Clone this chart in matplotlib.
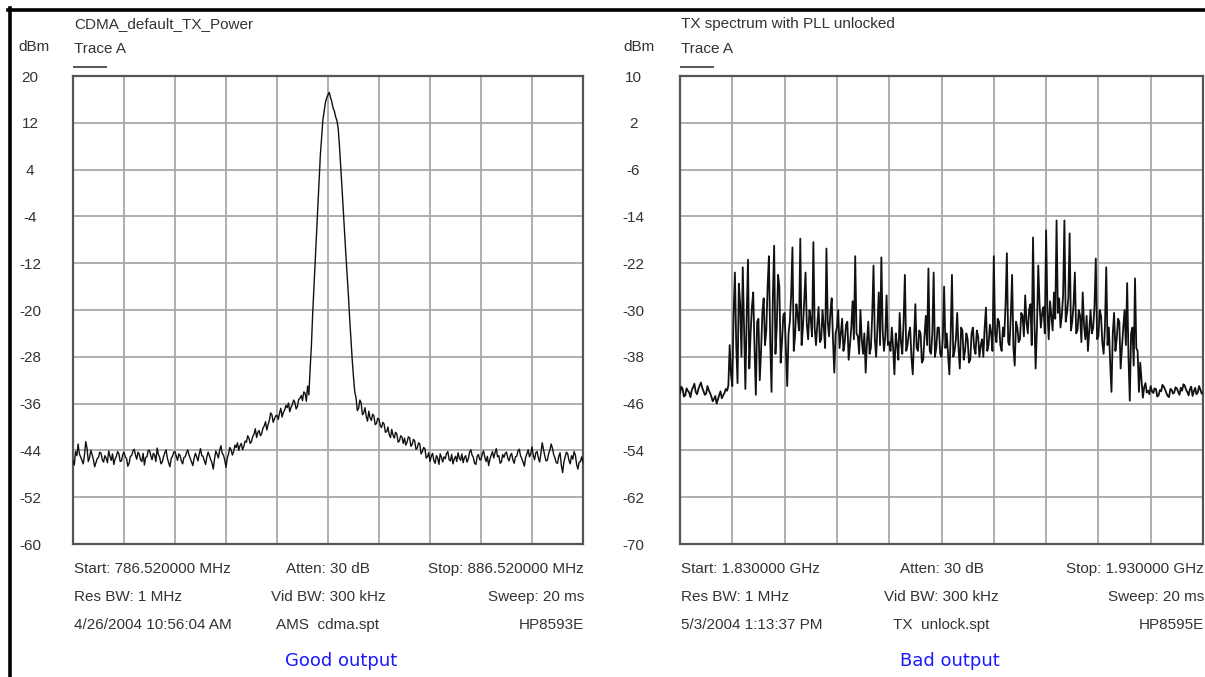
import numpy as np
import matplotlib
matplotlib.use("Agg")
import matplotlib.pyplot as plt
from matplotlib.lines import Line2D

W, H = 1205, 677

# ---------------- data ----------------
good_title = "CDMA_default_TX_Power"
bad_title = "TX spectrum with PLL unlocked"
good_start_mhz, good_stop_mhz = 786.52, 886.52
bad_start_mhz, bad_stop_mhz = 1830.0, 1930.0
good_yticks = [20, 12, 4, -4, -12, -20, -28, -36, -44, -52, -60]
bad_yticks = [10, 2, -6, -14, -22, -30, -38, -46, -54, -62, -70]
good_info = [["Start: 786.520000 MHz", "Atten: 30 dB", "Stop: 886.520000 MHz"],
             ["Res BW: 1 MHz", "Vid BW: 300 kHz", "Sweep: 20 ms"],
             ["4/26/2004 10:56:04 AM", "AMS  cdma.spt", "HP8593E"]]
bad_info = [["Start: 1.830000 GHz", "Atten: 30 dB", "Stop: 1.930000 GHz"],
            ["Res BW: 1 MHz", "Vid BW: 300 kHz", "Sweep: 20 ms"],
            ["5/3/2004 1:13:37 PM", "TX  unlock.spt", "HP8595E"]]
good_caption = "Good output"
bad_caption = "Bad output"

# trace values (dBm), one every 0.25 MHz across the 100 MHz span (401 sweep points)
good_trace = [
    -45.8, -46.5, -44.2, -44.9, -42.9, -44.6, -45.1, -45.7, -46.3, -44.8, -42.5, -43.6, -45.9, -45.2, -44.0, -44.7, -45.6, -46.8, -46.1, -45.4,
    -45.2, -44.3, -44.5, -45.6, -46.0, -44.9, -45.3, -46.1, -44.1, -45.0, -45.7, -44.6, -46.4, -45.5, -45.0, -44.2, -44.6, -45.9, -45.8, -44.7,
    -44.3, -45.1, -45.4, -46.7, -46.2, -45.0, -44.9, -44.1, -43.8, -44.8, -45.5, -44.3, -44.7, -45.6, -45.9, -44.5, -46.5, -45.2, -45.1, -44.0,
    -44.0, -44.9, -45.6, -44.5, -44.8, -45.9, -43.6, -44.7, -45.2, -46.3, -46.0, -45.1, -44.4, -43.9, -45.3, -46.1, -46.8, -45.4, -45.0, -44.3,
    -44.2, -45.0, -45.7, -44.6, -44.9, -45.8, -46.3, -45.2, -45.1, -44.4, -43.9, -44.8, -45.4, -46.0, -46.6, -45.3, -44.5, -45.1, -45.8, -44.6,
    -43.7, -44.9, -45.0, -45.8, -46.4, -45.1, -44.3, -44.9, -45.6, -46.1, -47.2, -45.5, -44.1, -44.6, -45.3, -44.0, -43.2, -44.5, -44.8, -45.6,
    -46.9, -45.3, -44.6, -43.5, -43.9, -44.8, -44.2, -43.1, -43.5, -42.7, -44.0, -43.2, -42.8, -43.9, -43.3, -42.4, -42.6, -41.5, -41.9, -42.8,
    -42.5, -41.6, -41.2, -40.3, -41.8, -40.9, -40.6, -41.5, -41.1, -40.2, -39.8, -39.1, -40.5, -39.6, -38.9, -37.6, -37.9, -39.2, -38.6, -38.1,
    -38.0, -38.7, -37.6, -36.8, -38.3, -37.5, -37.1, -36.3, -36.7, -35.9, -37.4, -36.6, -36.2, -35.4, -35.8, -36.9, -36.5, -35.3, -35.1, -34.6,
    -35.5, -34.0, -34.2, -35.6, -33.0, -34.5, -30.0, -26.0, -20.5, -16.0, -11.5, -7.0, -2.5, 2.0, 6.5, 9.5, 12.5, 14.0, 15.5, 16.3,
    16.8, 17.2, 16.3, 15.6, 14.5, 14.0, 13.0, 12.4, 11.0, 8.0, 4.5, 0.8, -3.0, -6.8, -10.5, -14.0, -17.5, -21.5, -25.0, -28.5,
    -31.5, -34.0, -35.0, -37.2, -36.8, -35.4, -35.9, -37.9, -37.6, -36.7, -38.2, -39.0, -37.3, -38.4, -38.9, -37.8, -38.1, -39.6, -39.4, -38.5,
    -38.7, -39.8, -40.1, -39.2, -39.5, -40.9, -40.8, -40.0, -41.3, -41.8, -40.4, -41.4, -41.9, -40.9, -41.2, -42.6, -42.4, -41.5, -41.7, -42.8,
    -41.9, -43.1, -42.6, -41.7, -41.8, -43.3, -43.0, -42.1, -42.4, -43.8, -43.6, -42.7, -42.9, -44.6, -44.2, -43.5, -43.7, -45.3, -45.1, -44.4,
    -45.9, -45.0, -44.5, -45.7, -46.2, -44.9, -45.3, -46.4, -44.6, -45.2, -46.0, -45.1, -45.4, -44.5, -44.2, -45.6, -45.8, -44.7, -46.3, -45.5,
    -45.0, -45.9, -44.4, -45.3, -45.7, -44.6, -46.1, -45.2, -44.9, -46.0, -45.5, -44.3, -43.9, -44.8, -45.2, -46.2, -46.4, -45.0, -44.7, -45.6,
    -45.6, -44.6, -44.1, -45.2, -45.9, -45.0, -46.6, -45.5, -44.8, -44.2, -45.3, -44.4, -43.7, -45.1, -44.9, -46.2, -46.0, -44.7, -45.2, -44.5,
    -44.3, -45.3, -45.8, -44.9, -44.5, -45.6, -46.2, -45.1, -45.0, -44.1, -43.8, -44.9, -45.4, -46.0, -46.7, -45.2, -44.6, -43.9, -45.1, -44.6,
    -43.4, -44.8, -45.6, -44.4, -44.2, -45.3, -46.0, -44.5, -42.7, -43.8, -44.9, -45.8, -45.7, -44.6, -44.0, -42.9, -43.6, -44.7, -45.3, -46.1,
    -46.2, -45.0, -44.4, -46.5, -47.8, -46.0, -45.1, -44.3, -44.6, -45.7, -46.3, -44.9, -45.5, -44.2, -44.8, -46.4, -47.2, -46.0, -45.9, -45.1,
    -46.1,
]

bad_trace = [
    -44.2, -43.1, -43.5, -44.8, -44.6, -43.4, -43.8, -44.1, -44.9, -43.7, -43.2, -42.6, -44.0, -44.4, -43.6, -42.9, -42.4, -43.3, -43.9, -44.5,
    -44.3, -43.0, -43.7, -44.2, -44.8, -45.6, -45.2, -44.7, -46.0, -45.3, -44.5, -43.9, -45.1, -44.6, -44.2, -43.5, -43.8, -42.9, -36.0, -41.0,
    -43.0, -30.5, -23.6, -36.0, -42.5, -25.5, -29.0, -38.0, -22.7, -33.0, -43.5, -31.0, -21.4, -40.0, -34.0, -29.5, -27.0, -36.5, -44.5, -32.0,
    -31.5, -42.0, -37.0, -30.5, -28.0, -36.0, -33.5, -26.0, -20.8, -35.5, -44.0, -28.0, -19.0, -37.5, -33.0, -24.0, -26.0, -39.0, -35.5, -31.0,
    -30.5, -36.5, -43.0, -34.0, -32.0, -27.5, -19.3, -37.0, -34.5, -29.0, -31.0, -33.5, -17.8, -36.0, -33.0, -28.5, -23.6, -32.5, -35.0, -30.0,
    -31.5, -34.5, -18.4, -33.0, -36.0, -32.5, -29.5, -35.5, -35.0, -30.0, -33.0, -36.5, -19.5, -32.0, -34.5, -30.5, -28.0, -35.0, -40.7, -34.0,
    -33.0, -30.0, -36.5, -34.0, -31.5, -37.0, -35.5, -32.5, -32.0, -38.5, -36.0, -33.0, -28.5, -35.0, -20.8, -34.0, -34.5, -37.5, -30.0, -35.0,
    -37.5, -34.0, -40.7, -35.5, -32.0, -37.5, -36.5, -31.0, -22.4, -35.0, -38.0, -33.0, -27.0, -36.0, -21.0, -33.5, -37.0, -34.5, -27.5, -36.0,
    -35.5, -37.0, -33.0, -36.5, -41.0, -34.0, -36.0, -38.5, -30.5, -35.5, -37.5, -32.0, -24.0, -37.0, -36.0, -34.0, -33.0, -38.0, -41.0, -35.0,
    -29.0, -36.5, -37.0, -33.5, -34.0, -39.0, -38.5, -34.5, -31.0, -36.0, -22.9, -37.0, -37.5, -34.0, -23.6, -38.0, -36.5, -33.0, -33.0, -37.5,
    -38.0, -35.0, -26.0, -36.5, -34.0, -37.5, -41.0, -34.5, -24.0, -38.0, -37.0, -35.0, -30.5, -36.5, -40.0, -33.0, -33.5, -38.5, -37.0, -34.0,
    -35.0, -39.0, -38.5, -34.0, -33.0, -36.5, -37.5, -33.5, -34.5, -38.0, -36.0, -35.0, -38.0, -33.0, -29.6, -37.0, -36.0, -32.5, -34.0, -37.0,
    -20.8, -34.0, -35.5, -31.5, -32.0, -36.0, -37.0, -33.0, -34.5, -29.0, -20.3, -35.5, -36.0, -31.0, -24.0, -36.5, -39.5, -32.0, -33.0, -35.5,
    -35.0, -30.5, -31.0, -34.5, -27.5, -32.0, -34.0, -30.0, -29.0, -36.0, -17.6, -31.5, -40.0, -33.0, -22.4, -29.0, -33.0, -30.5, -29.5, -34.0,
    -16.4, -30.0, -35.0, -28.5, -31.0, -33.5, -27.0, -31.5, -14.7, -30.5, -28.0, -33.0, -31.0, -27.5, -14.7, -32.0, -30.5, -28.0, -16.9, -33.5,
    -32.0, -29.0, -23.6, -34.0, -33.5, -30.0, -31.0, -35.5, -27.0, -32.5, -35.0, -31.0, -37.0, -33.5, -30.0, -34.0, -33.0, -29.5, -21.2, -35.0,
    -34.5, -30.0, -31.0, -35.5, -37.5, -33.0, -22.7, -36.0, -33.0, -39.0, -44.0, -34.0, -30.5, -37.0, -35.0, -31.5, -32.0, -40.0, -36.5, -33.0,
    -30.0, -36.0, -25.4, -38.0, -45.5, -34.0, -33.0, -39.5, -24.6, -36.5, -37.0, -44.0, -39.0, -42.0, -45.0, -43.2, -42.5, -44.1, -43.8, -44.4,
    -43.0, -43.9, -44.2, -43.4, -43.5, -44.8, -44.6, -43.7, -43.9, -42.8, -43.1, -43.6, -44.2, -44.7, -44.9, -43.5, -43.6, -44.3, -44.1, -43.2,
    -43.4, -44.0, -44.5, -43.3, -43.8, -42.7, -42.9, -43.6, -44.0, -44.6, -43.5, -43.1, -44.7, -43.9, -43.3, -44.4, -44.1, -43.0, -43.6, -44.3,
    -44.2,
]

# ---------------- style ----------------
FONT = ['Liberation Sans', 'DejaVu Sans']
TXT = '#333333'
FS = 11

fig = plt.figure(figsize=(W / 100, H / 100), dpi=100)
fig.patch.set_facecolor('white')


def fx(x):
    return x / W


def fy(y):
    return 1 - y / H


def draw_panel(box, start, stop, values, yticks, title, info, caption,
               caption_cx, label_cx, dbm_cx, lw):
    x0, y0, x1, y1 = box
    ax = fig.add_axes([fx(x0), fy(y1), (x1 - x0) / W, (y1 - y0) / H])
    freqs = np.linspace(start, stop, len(values))
    ax.plot(freqs, values, color='#111111', lw=lw, zorder=3)
    ax.set_xlim(start, stop)
    ax.set_ylim(yticks[-1], yticks[0])
    ax.set_xticks(np.linspace(start, stop, 11))
    ax.set_yticks(yticks)
    ax.set_yticklabels([str(v) for v in yticks])
    ax.grid(True, color='#a8a8a8', lw=1.3, zorder=1)
    ax.set_axisbelow(True)
    ax.tick_params(axis='x', length=0, labelbottom=False)
    ax.tick_params(axis='y', length=0, pad=(x0 - label_cx) * 0.72,
                   labelsize=FS, labelcolor=TXT)
    for lab in ax.get_yticklabels():
        lab.set_ha('center')
        lab.set_fontfamily(FONT)
    for s in ax.spines.values():
        s.set_color('#555555')
        s.set_linewidth(1.6)

    fig.text(fx(x0 + 1), fy(24), title, ha='left', va='center',
             fontsize=FS, color=TXT, family=FONT)
    fig.text(fx(dbm_cx), fy(47), "dBm", ha='center', va='center',
             fontsize=FS, color=TXT, family=FONT)
    fig.text(fx(x0 + 1), fy(49), "Trace A", ha='left', va='center',
             fontsize=FS, color=TXT, family=FONT)
    fig.add_artist(Line2D([fx(x0 + 1), fx(x0 + 33)], [fy(67), fy(67)],
                          color='#555555', lw=1.4))

    rows_y = [569, 597, 625]
    for row, yy in zip(info, rows_y):
        fig.text(fx(x0 + 1), fy(yy), row[0], ha='left', va='center',
                 fontsize=FS, color=TXT, family=FONT)
        fig.text(fx((x0 + x1) / 2), fy(yy), row[1], ha='center', va='center',
                 fontsize=FS, color=TXT, family=FONT)
        fig.text(fx(x1 + 1), fy(yy), row[2], ha='right', va='center',
                 fontsize=FS, color=TXT, family=FONT)
    fig.text(fx(caption_cx), fy(661), caption, ha='center', va='center',
             fontsize=13, color='#1a1aff', family=['DejaVu Sans'])
    return ax


draw_panel((73, 76, 583, 544), good_start_mhz, good_stop_mhz, good_trace,
           good_yticks, good_title, good_info, good_caption, 341, 30, 34, 1.0)
draw_panel((680, 76, 1203, 544), bad_start_mhz, bad_stop_mhz, bad_trace,
           bad_yticks, bad_title, bad_info, bad_caption, 950, 633, 639, 1.3)

# page frame lines (top and left)
fig.add_artist(Line2D([fx(8), fx(1205)], [fy(9.5), fy(9.5)], color='black', lw=2.6))
fig.add_artist(Line2D([fx(9.5), fx(9.5)], [fy(8), fy(677)], color='black', lw=2.6))

fig.savefig("out.png", dpi=100, facecolor='white')
